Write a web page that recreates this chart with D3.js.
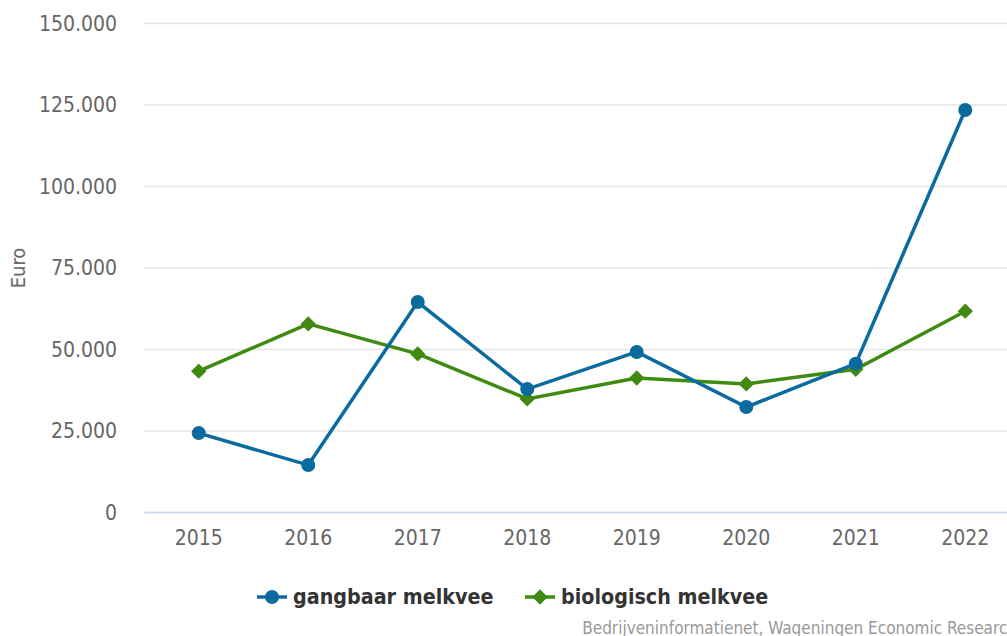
<!DOCTYPE html>
<html lang='nl'>
<head>
    <title>Melkvee</title>
    <meta charset='UTF-8'>
    <script src='https://cdn.jsdelivr.net/npm/d3@7'></script>
    <style>
      body { margin: 0; background: #fff; }
      svg { display: block; font-family: 'DejaVu Sans Condensed', 'DejaVu Sans', sans-serif; }
    </style>
</head>
<body>
<svg id='chart' width='1007' height='636'></svg>

<script>
  // data
  const years = ['2015', '2016', '2017', '2018', '2019', '2020', '2021', '2022']
  const gangbaar = [24200, 14400, 64400, 37700, 49100, 32200, 45500, 123300]
  const biologisch = [43200, 57700, 48500, 34700, 41100, 39300, 43800, 61600]
  const yTicks = [0, 25000, 50000, 75000, 100000, 125000, 150000]
  const seriesNames = ['gangbaar melkvee', 'biologisch melkvee']

  const blue = '#0b6a9e', green = '#3f8b12'

  const svg = d3.select('#chart')
  const plotLeft = 144, plotRight = 1020, plotTop = 23, plotBottom = 512

  const nl = d3.formatLocale({ decimal: ',', thousands: '.', grouping: [3], currency: ['€', ''] })
  const fmt = nl.format(',')

  const x = d3.scaleBand().domain(years).range([plotLeft, plotRight])
  const y = d3.scaleLinear().domain([0, 150000]).range([plotBottom, plotTop])
  const cx = d => x(d) + x.bandwidth() / 2

  // gridlines + y labels
  const yAxis = svg.append('g')
    .attr('transform', `translate(${plotLeft},0)`)
    .call(d3.axisLeft(y).tickValues(yTicks).tickSize(-(plotRight - plotLeft)).tickPadding(27).tickFormat(d => fmt(d)))
  yAxis.attr('font-family', null)
  yAxis.select('.domain').remove()
  yAxis.selectAll('line').attr('stroke', '#e6e6e6').attr('stroke-width', 1.5)
  yAxis.selectAll('text').attr('fill', '#666').style('font-size', '21px').attr('dy', '0.35em')

  // x axis
  const xAxis = svg.append('g')
    .attr('transform', `translate(0,${plotBottom})`)
    .call(d3.axisBottom(x).tickSize(0).tickPadding(18))
  xAxis.attr('font-family', null)
  xAxis.select('.domain').attr('stroke', '#ccd6eb').attr('stroke-width', 1.5)
  xAxis.selectAll('text').attr('fill', '#666').style('font-size', '21px').attr('dy', '0.71em')

  // y title
  svg.append('text')
    .attr('transform', `translate(25,268) rotate(-90)`)
    .attr('text-anchor', 'middle')
    .attr('fill', '#666')
    .style('font-size', '20px')
    .text('Euro')

  const line = d3.line().x((d, i) => cx(years[i])).y(d => y(d))

  svg.append('path').datum(biologisch)
    .attr('d', line).attr('fill', 'none').attr('stroke', green).attr('stroke-width', 3.5)
  svg.append('path').datum(gangbaar)
    .attr('d', line).attr('fill', 'none').attr('stroke', blue).attr('stroke-width', 3.5)

  const diamond = d3.symbol().type(d3.symbolDiamond2).size(150)

  svg.append('g').selectAll('path')
    .data(biologisch).enter()
    .append('path')
      .attr('d', diamond)
      .attr('transform', (d, i) => `translate(${cx(years[i])},${y(d)})`)
      .attr('fill', green)

  svg.append('g').selectAll('circle')
    .data(gangbaar).enter()
    .append('circle')
      .attr('cx', (d, i) => cx(years[i]))
      .attr('cy', d => y(d))
      .attr('r', 7)
      .attr('fill', blue)

  // legend
  const legend = svg.append('g')
  const legendItems = [
    { name: seriesNames[0], color: blue, x: 257, shape: 'circle' },
    { name: seriesNames[1], color: green, x: 525, shape: 'diamond' }
  ]
  legendItems.forEach(it => {
    const g = legend.append('g').attr('transform', `translate(${it.x},597)`)
    g.append('line').attr('x1', 0).attr('x2', 30).attr('stroke', it.color).attr('stroke-width', 3.5)
    if (it.shape === 'circle') {
      g.append('circle').attr('cx', 15).attr('r', 7).attr('fill', it.color)
    } else {
      g.append('path').attr('d', diamond).attr('transform', 'translate(15,0)').attr('fill', it.color)
    }
    g.append('text')
      .attr('x', 36).attr('dy', '0.35em')
      .attr('fill', '#333')
      .style('font-size', '21.3px').style('font-weight', 'bold')
      .text(it.name)
  })

  // credits (the reference crops this at the right edge)
  svg.append('text')
    .attr('x', 1017).attr('y', 634)
    .attr('text-anchor', 'end')
    .attr('fill', '#999')
    .style('font-size', '17px')
    .text('Bedrijveninformatienet, Wageningen Economic Research')
</script>
</body>
</html>
